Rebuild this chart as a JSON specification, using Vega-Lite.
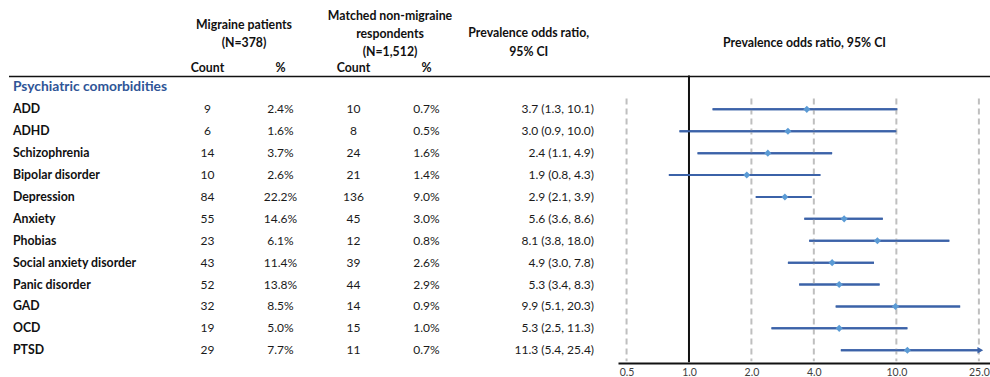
{
  "$schema": "https://vega.github.io/schema/vega-lite/v6.json",
  "padding": {"left": 8, "top": 0, "right": 0, "bottom": 0},
  "spacing": 0,
  "bounds": "flush",
  "background": "white",
  "config": {"view": {"stroke": null}, "font": "Lato"},
  "datasets": {
    "rows": [
      {"cond": "ADD", "n_mig": 9, "pct_mig": 0.024, "n_ctl": 10, "pct_ctl": 0.007, "or": 3.7, "lo": 1.3, "hi": 10.1, "ci": "3.7 (1.3, 10.1)"},
      {"cond": "ADHD", "n_mig": 6, "pct_mig": 0.016, "n_ctl": 8, "pct_ctl": 0.005, "or": 3.0, "lo": 0.9, "hi": 10.0, "ci": "3.0 (0.9, 10.0)"},
      {"cond": "Schizophrenia", "n_mig": 14, "pct_mig": 0.037, "n_ctl": 24, "pct_ctl": 0.016, "or": 2.4, "lo": 1.1, "hi": 4.9, "ci": "2.4 (1.1, 4.9)"},
      {"cond": "Bipolar disorder", "n_mig": 10, "pct_mig": 0.026, "n_ctl": 21, "pct_ctl": 0.014, "or": 1.9, "lo": 0.8, "hi": 4.3, "ci": "1.9 (0.8, 4.3)"},
      {"cond": "Depression", "n_mig": 84, "pct_mig": 0.222, "n_ctl": 136, "pct_ctl": 0.090, "or": 2.9, "lo": 2.1, "hi": 3.9, "ci": "2.9 (2.1, 3.9)"},
      {"cond": "Anxiety", "n_mig": 55, "pct_mig": 0.146, "n_ctl": 45, "pct_ctl": 0.030, "or": 5.6, "lo": 3.6, "hi": 8.6, "ci": "5.6 (3.6, 8.6)"},
      {"cond": "Phobias", "n_mig": 23, "pct_mig": 0.061, "n_ctl": 12, "pct_ctl": 0.008, "or": 8.1, "lo": 3.8, "hi": 18.0, "ci": "8.1 (3.8, 18.0)"},
      {"cond": "Social anxiety disorder", "n_mig": 43, "pct_mig": 0.114, "n_ctl": 39, "pct_ctl": 0.026, "or": 4.9, "lo": 3.0, "hi": 7.8, "ci": "4.9 (3.0, 7.8)"},
      {"cond": "Panic disorder", "n_mig": 52, "pct_mig": 0.138, "n_ctl": 44, "pct_ctl": 0.029, "or": 5.3, "lo": 3.4, "hi": 8.3, "ci": "5.3 (3.4, 8.3)"},
      {"cond": "GAD", "n_mig": 32, "pct_mig": 0.085, "n_ctl": 14, "pct_ctl": 0.009, "or": 9.9, "lo": 5.1, "hi": 20.3, "ci": "9.9 (5.1, 20.3)"},
      {"cond": "OCD", "n_mig": 19, "pct_mig": 0.050, "n_ctl": 15, "pct_ctl": 0.010, "or": 5.3, "lo": 2.5, "hi": 11.3, "ci": "5.3 (2.5, 11.3)"},
      {"cond": "PTSD", "n_mig": 29, "pct_mig": 0.077, "n_ctl": 11, "pct_ctl": 0.007, "or": 11.3, "lo": 5.4, "hi": 25.4, "ci": "11.3 (5.4, 25.4)"}
    ],
    "sections": [{"cond": "Psychiatric comorbidities"}],
    "headers": [
      {"row": "h1", "col": "n_mig", "text": "Migraine patients\n(N=378)"},
      {"row": "h1", "col": "n_ctl", "text": "Matched non-migraine\nrespondents\n(N=1,512)"},
      {"row": "h2", "col": "or_head", "text": "Prevalence odds ratio,\n95% CI"},
      {"row": "h3", "col": "n_mig", "text": "Count"},
      {"row": "h3", "col": "pct_mig", "text": "%"},
      {"row": "h3", "col": "n_ctl", "text": "Count"},
      {"row": "h3", "col": "pct_ctl", "text": "%"},
      {"row": "h2", "col": "forest", "text": "Prevalence odds ratio, 95% CI"}
    ],
    "refs": [{"v": 0.5}, {"v": 2}, {"v": 4}, {"v": 10}, {"v": 25}],
    "nullref": [{"v": 1}]
  },
  "hconcat": [
    {
      "width": 162,
      "height": 363,
      "layer": [
        {
          "data": {"name": "sections"},
          "mark": {"type": "rule", "color": "#111111", "strokeWidth": 1.5},
          "encoding": {
            "y": {"datum": "Psychiatric comorbidities", "bandPosition": 0, "axis": null, "scale": {"type": "band", "domain": ["h1","h2","h3","Psychiatric comorbidities","ADD","ADHD","Schizophrenia","Bipolar disorder","Depression","Anxiety","Phobias","Social anxiety disorder","Panic disorder","GAD","OCD","PTSD"], "paddingInner": 0, "paddingOuter": 0.2877, "align": 0.857}}
          }
        },
        {
          "data": {"name": "sections"},
          "mark": {"type": "text", "align": "left", "fontWeight": "bold", "fontSize": 13.8, "color": "#2F5597"},
          "encoding": {
            "x": {"datum": "label", "bandPosition": 0, "axis": null, "scale": {"type": "band", "domain": ["label"], "paddingInner": 0, "paddingOuter": 0.5, "align": 0.049}},
            "y": {"field": "cond", "type": "nominal", "axis": null, "scale": {"type": "band", "domain": ["h1","h2","h3","Psychiatric comorbidities","ADD","ADHD","Schizophrenia","Bipolar disorder","Depression","Anxiety","Phobias","Social anxiety disorder","Panic disorder","GAD","OCD","PTSD"], "paddingInner": 0, "paddingOuter": 0.2877, "align": 0.857}},
            "text": {"field": "cond"}
          }
        },
        {
          "data": {"name": "rows"},
          "mark": {"type": "text", "align": "left", "fontWeight": "bold", "fontSize": 12.3, "color": "#111111"},
          "encoding": {
            "x": {"datum": "label", "bandPosition": 0, "axis": null, "scale": {"type": "band", "domain": ["label"], "paddingInner": 0, "paddingOuter": 0.5, "align": 0.049}},
            "y": {"field": "cond", "type": "nominal", "axis": null, "scale": {"type": "band", "domain": ["h1","h2","h3","Psychiatric comorbidities","ADD","ADHD","Schizophrenia","Bipolar disorder","Depression","Anxiety","Phobias","Social anxiety disorder","Panic disorder","GAD","OCD","PTSD"], "paddingInner": 0, "paddingOuter": 0.2877, "align": 0.857}},
            "text": {"field": "cond"}
          }
        }
      ]
    },
    {
      "width": 447,
      "height": 363,
      "layer": [
        {
          "data": {"name": "sections"},
          "mark": {"type": "rule", "color": "#111111", "strokeWidth": 1.5},
          "encoding": {
            "y": {"datum": "Psychiatric comorbidities", "bandPosition": 0, "axis": null, "scale": {"type": "band", "domain": ["h1","h2","h3","Psychiatric comorbidities","ADD","ADHD","Schizophrenia","Bipolar disorder","Depression","Anxiety","Phobias","Social anxiety disorder","Panic disorder","GAD","OCD","PTSD"], "paddingInner": 0, "paddingOuter": 0.2877, "align": 0.857}}
          }
        },
        {
          "data": {"name": "headers"},
          "transform": [{"filter": "datum.col == 'n_mig' && datum.row == 'h1'"}],
          "mark": {"type": "text", "fontWeight": "bold", "fontSize": 12.3, "color": "#111111", "lineBreak": "\n", "lineHeight": 18.3},
          "encoding": {
            "x": {"field": "col", "type": "nominal", "bandPosition": 1, "axis": null, "scale": {"type": "band", "domain": ["n_mig","pct_mig","n_ctl","pct_ctl","or_head","or_ci"], "paddingInner": 0, "paddingOuter": 0.0616, "align": 0}},
            "y": {"field": "row", "type": "nominal", "bandPosition": 0.65, "axis": null, "scale": {"type": "band", "domain": ["h1","h2","h3","Psychiatric comorbidities","ADD","ADHD","Schizophrenia","Bipolar disorder","Depression","Anxiety","Phobias","Social anxiety disorder","Panic disorder","GAD","OCD","PTSD"], "paddingInner": 0, "paddingOuter": 0.2877, "align": 0.857}},
            "text": {"field": "text"}
          }
        },
        {
          "data": {"name": "headers"},
          "transform": [{"filter": "datum.col == 'n_ctl' && datum.row == 'h1'"}],
          "mark": {"type": "text", "fontWeight": "bold", "fontSize": 12.3, "color": "#111111", "lineBreak": "\n", "lineHeight": 18.3},
          "encoding": {
            "x": {"field": "col", "type": "nominal", "bandPosition": 1, "axis": null, "scale": {"type": "band", "domain": ["n_mig","pct_mig","n_ctl","pct_ctl","or_head","or_ci"], "paddingInner": 0, "paddingOuter": 0.0616, "align": 0}},
            "y": {"field": "row", "type": "nominal", "bandPosition": 0.215, "axis": null, "scale": {"type": "band", "domain": ["h1","h2","h3","Psychiatric comorbidities","ADD","ADHD","Schizophrenia","Bipolar disorder","Depression","Anxiety","Phobias","Social anxiety disorder","Panic disorder","GAD","OCD","PTSD"], "paddingInner": 0, "paddingOuter": 0.2877, "align": 0.857}},
            "text": {"field": "text"}
          }
        },
        {
          "data": {"name": "headers"},
          "transform": [{"filter": "datum.col == 'or_head'"}],
          "mark": {"type": "text", "fontWeight": "bold", "fontSize": 12.3, "color": "#111111", "lineBreak": "\n", "lineHeight": 18.3},
          "encoding": {
            "x": {"field": "col", "type": "nominal", "bandPosition": 0.9, "axis": null, "scale": {"type": "band", "domain": ["n_mig","pct_mig","n_ctl","pct_ctl","or_head","or_ci"], "paddingInner": 0, "paddingOuter": 0.0616, "align": 0}},
            "y": {"field": "row", "type": "nominal", "bandPosition": 0.03, "axis": null, "scale": {"type": "band", "domain": ["h1","h2","h3","Psychiatric comorbidities","ADD","ADHD","Schizophrenia","Bipolar disorder","Depression","Anxiety","Phobias","Social anxiety disorder","Panic disorder","GAD","OCD","PTSD"], "paddingInner": 0, "paddingOuter": 0.2877, "align": 0.857}},
            "text": {"field": "text"}
          }
        },
        {
          "data": {"name": "headers"},
          "transform": [{"filter": "datum.row == 'h3'"}],
          "mark": {"type": "text", "fontWeight": "bold", "fontSize": 12.3, "color": "#111111"},
          "encoding": {
            "x": {"field": "col", "type": "nominal", "axis": null, "scale": {"type": "band", "domain": ["n_mig","pct_mig","n_ctl","pct_ctl","or_head","or_ci"], "paddingInner": 0, "paddingOuter": 0.0616, "align": 0}},
            "y": {"field": "row", "type": "nominal", "bandPosition": 0.625, "axis": null, "scale": {"type": "band", "domain": ["h1","h2","h3","Psychiatric comorbidities","ADD","ADHD","Schizophrenia","Bipolar disorder","Depression","Anxiety","Phobias","Social anxiety disorder","Panic disorder","GAD","OCD","PTSD"], "paddingInner": 0, "paddingOuter": 0.2877, "align": 0.857}},
            "text": {"field": "text"}
          }
        },
        {
          "data": {"name": "rows"},
          "transform": [{"fold": ["n_mig", "n_ctl"], "as": ["key", "value"]}],
          "mark": {"type": "text", "fontSize": 12, "color": "#1a1a1a"},
          "encoding": {
            "x": {"field": "key", "type": "nominal", "axis": null, "scale": {"type": "band", "domain": ["n_mig","pct_mig","n_ctl","pct_ctl","or_head","or_ci"], "paddingInner": 0, "paddingOuter": 0.0616, "align": 0}},
            "y": {"field": "cond", "type": "nominal", "axis": null, "scale": {"type": "band", "domain": ["h1","h2","h3","Psychiatric comorbidities","ADD","ADHD","Schizophrenia","Bipolar disorder","Depression","Anxiety","Phobias","Social anxiety disorder","Panic disorder","GAD","OCD","PTSD"], "paddingInner": 0, "paddingOuter": 0.2877, "align": 0.857}},
            "text": {"field": "value", "type": "quantitative", "format": "d"}
          }
        },
        {
          "data": {"name": "rows"},
          "transform": [{"fold": ["pct_mig", "pct_ctl"], "as": ["key", "value"]}],
          "mark": {"type": "text", "fontSize": 12, "color": "#1a1a1a"},
          "encoding": {
            "x": {"field": "key", "type": "nominal", "axis": null, "scale": {"type": "band", "domain": ["n_mig","pct_mig","n_ctl","pct_ctl","or_head","or_ci"], "paddingInner": 0, "paddingOuter": 0.0616, "align": 0}},
            "y": {"field": "cond", "type": "nominal", "axis": null, "scale": {"type": "band", "domain": ["h1","h2","h3","Psychiatric comorbidities","ADD","ADHD","Schizophrenia","Bipolar disorder","Depression","Anxiety","Phobias","Social anxiety disorder","Panic disorder","GAD","OCD","PTSD"], "paddingInner": 0, "paddingOuter": 0.2877, "align": 0.857}},
            "text": {"field": "value", "type": "quantitative", "format": ".1%"}
          }
        },
        {
          "data": {"name": "rows"},
          "mark": {"type": "text", "fontSize": 12, "color": "#1a1a1a", "align": "right"},
          "encoding": {
            "x": {"datum": "or_ci", "bandPosition": 0.795, "axis": null, "scale": {"type": "band", "domain": ["n_mig","pct_mig","n_ctl","pct_ctl","or_head","or_ci"], "paddingInner": 0, "paddingOuter": 0.0616, "align": 0}},
            "y": {"field": "cond", "type": "nominal", "axis": null, "scale": {"type": "band", "domain": ["h1","h2","h3","Psychiatric comorbidities","ADD","ADHD","Schizophrenia","Bipolar disorder","Depression","Anxiety","Phobias","Social anxiety disorder","Panic disorder","GAD","OCD","PTSD"], "paddingInner": 0, "paddingOuter": 0.2877, "align": 0.857}},
            "text": {"field": "ci"}
          }
        }
      ]
    },
    {
      "width": 373,
      "height": 363,
      "layer": [
        {
          "data": {"name": "rows"},
          "mark": {"type": "rule", "color": "#3B62A8", "strokeWidth": 2},
          "encoding": {
            "x": {"field": "lo", "type": "quantitative", "title": null, "scale": {"type": "log", "domain": [0.4547, 28.6], "nice": false}, "axis": {"values": [0.5, 1, 2, 4, 10, 25], "format": ".1f", "title": null, "grid": false, "ticks": false, "domainColor": "#111111", "domainWidth": 2, "labelFontSize": 10.5, "labelColor": "#404040", "labelPadding": 4, "labelFlush": false}},
            "x2": {"field": "hi"},
            "y": {"field": "cond", "type": "nominal", "axis": null, "scale": {"type": "band", "domain": ["h1","h2","h3","Psychiatric comorbidities","ADD","ADHD","Schizophrenia","Bipolar disorder","Depression","Anxiety","Phobias","Social anxiety disorder","Panic disorder","GAD","OCD","PTSD"], "paddingInner": 0, "paddingOuter": 0.2877, "align": 0.857}}
          }
        },
        {
          "data": {"name": "refs"},
          "mark": {"type": "rule", "color": "#BFBFBF", "strokeWidth": 2, "strokeDash": [6, 4]},
          "encoding": {
            "x": {"field": "v", "type": "quantitative", "title": null, "scale": {"type": "log", "domain": [0.4547, 28.6], "nice": false}},
            "y": {"datum": "ADD", "bandPosition": 0, "axis": null, "scale": {"type": "band", "domain": ["h1","h2","h3","Psychiatric comorbidities","ADD","ADHD","Schizophrenia","Bipolar disorder","Depression","Anxiety","Phobias","Social anxiety disorder","Panic disorder","GAD","OCD","PTSD"], "paddingInner": 0, "paddingOuter": 0.2877, "align": 0.857}},
            "y2": {"datum": "PTSD", "bandPosition": 1}
          }
        },
        {
          "data": {"name": "nullref"},
          "mark": {"type": "rule", "color": "#111111", "strokeWidth": 2, "strokeCap": "square"},
          "encoding": {
            "x": {"field": "v", "type": "quantitative", "title": null, "scale": {"type": "log", "domain": [0.4547, 28.6], "nice": false}},
            "y": {"datum": "Psychiatric comorbidities", "bandPosition": 0, "axis": null, "scale": {"type": "band", "domain": ["h1","h2","h3","Psychiatric comorbidities","ADD","ADHD","Schizophrenia","Bipolar disorder","Depression","Anxiety","Phobias","Social anxiety disorder","Panic disorder","GAD","OCD","PTSD"], "paddingInner": 0, "paddingOuter": 0.2877, "align": 0.857}},
            "y2": {"datum": "PTSD", "bandPosition": 1}
          }
        },
        {
          "data": {"name": "sections"},
          "mark": {"type": "rule", "color": "#111111", "strokeWidth": 1.5},
          "encoding": {
            "y": {"datum": "Psychiatric comorbidities", "bandPosition": 0, "axis": null, "scale": {"type": "band", "domain": ["h1","h2","h3","Psychiatric comorbidities","ADD","ADHD","Schizophrenia","Bipolar disorder","Depression","Anxiety","Phobias","Social anxiety disorder","Panic disorder","GAD","OCD","PTSD"], "paddingInner": 0, "paddingOuter": 0.2877, "align": 0.857}}
          }
        },
        {
          "data": {"name": "rows"},
          "mark": {"type": "rule", "color": "#3B62A8", "strokeWidth": 2},
          "encoding": {
            "x": {"field": "lo", "type": "quantitative", "title": null, "scale": {"type": "log", "domain": [0.4547, 28.6], "nice": false}},
            "x2": {"field": "hi"},
            "y": {"field": "cond", "type": "nominal", "axis": null, "scale": {"type": "band", "domain": ["h1","h2","h3","Psychiatric comorbidities","ADD","ADHD","Schizophrenia","Bipolar disorder","Depression","Anxiety","Phobias","Social anxiety disorder","Panic disorder","GAD","OCD","PTSD"], "paddingInner": 0, "paddingOuter": 0.2877, "align": 0.857}}
          }
        },
        {
          "data": {"name": "rows"},
          "mark": {"type": "point", "shape": "diamond", "filled": true, "color": "#5B9BD5", "opacity": 1, "size": 50},
          "encoding": {
            "x": {"field": "or", "type": "quantitative", "title": null, "scale": {"type": "log", "domain": [0.4547, 28.6], "nice": false}},
            "y": {"field": "cond", "type": "nominal", "axis": null, "scale": {"type": "band", "domain": ["h1","h2","h3","Psychiatric comorbidities","ADD","ADHD","Schizophrenia","Bipolar disorder","Depression","Anxiety","Phobias","Social anxiety disorder","Panic disorder","GAD","OCD","PTSD"], "paddingInner": 0, "paddingOuter": 0.2877, "align": 0.857}}
          }
        },
        {
          "data": {"name": "rows"},
          "transform": [{"filter": "datum.hi > 25"}],
          "mark": {"type": "point", "shape": "triangle-right", "filled": true, "color": "#3B62A8", "opacity": 1, "size": 45},
          "encoding": {
            "x": {"field": "hi", "type": "quantitative", "title": null, "scale": {"type": "log", "domain": [0.4547, 28.6], "nice": false}},
            "y": {"field": "cond", "type": "nominal", "axis": null, "scale": {"type": "band", "domain": ["h1","h2","h3","Psychiatric comorbidities","ADD","ADHD","Schizophrenia","Bipolar disorder","Depression","Anxiety","Phobias","Social anxiety disorder","Panic disorder","GAD","OCD","PTSD"], "paddingInner": 0, "paddingOuter": 0.2877, "align": 0.857}}
          }
        },
        {
          "data": {"name": "headers"},
          "transform": [{"filter": "datum.col == 'forest'"}],
          "mark": {"type": "text", "fontWeight": "bold", "fontSize": 12.3, "color": "#111111"},
          "encoding": {
            "y": {"field": "row", "type": "nominal", "bandPosition": 0.49, "axis": null, "scale": {"type": "band", "domain": ["h1","h2","h3","Psychiatric comorbidities","ADD","ADHD","Schizophrenia","Bipolar disorder","Depression","Anxiety","Phobias","Social anxiety disorder","Panic disorder","GAD","OCD","PTSD"], "paddingInner": 0, "paddingOuter": 0.2877, "align": 0.857}},
            "text": {"field": "text"}
          }
        }
      ]
    }
  ]
}
